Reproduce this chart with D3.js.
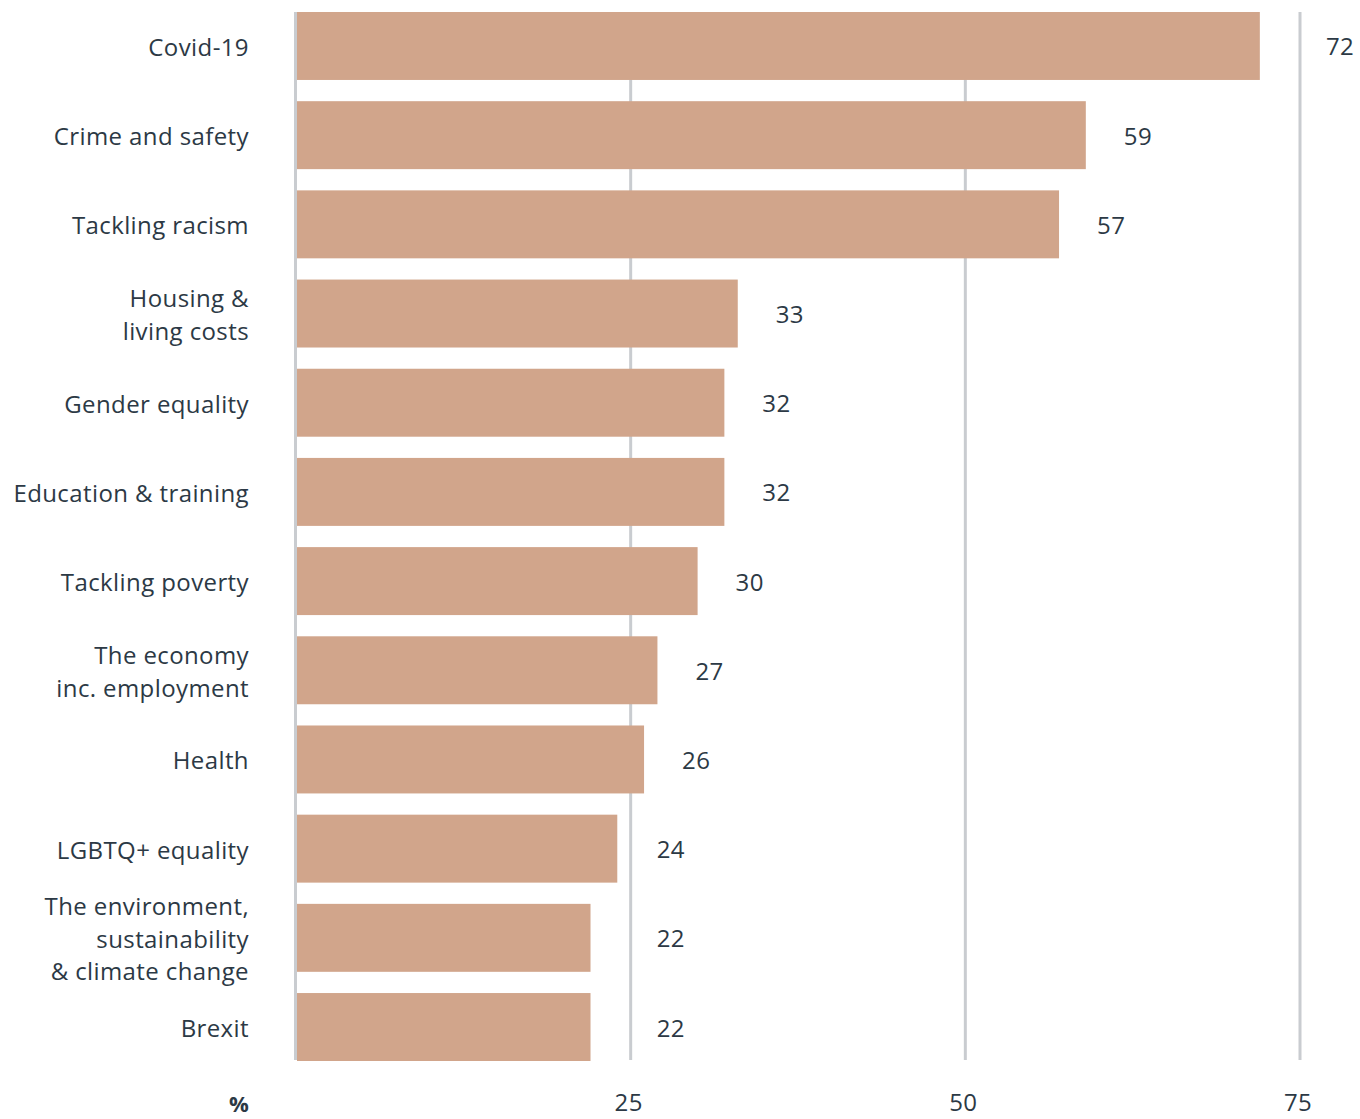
<!DOCTYPE html>
<html>
<head>
<meta charset="utf-8">
<script src="https://cdn.jsdelivr.net/npm/d3@7"></script>
<style>
  html, body { margin: 0; padding: 0; background: #fff; }
  svg text { font-family: "Open Sans", "Noto Sans", sans-serif; fill: #2c3945; }
</style>
</head>
<body>
<svg id="chart" width="1360" height="1119"></svg>
<script>
// Issues people care about, share of respondents (%)
const categories = [
  ["Covid-19"],
  ["Crime and safety"],
  ["Tackling racism"],
  ["Housing &", "living costs"],
  ["Gender equality"],
  ["Education & training"],
  ["Tackling poverty"],
  ["The economy", "inc. employment"],
  ["Health"],
  ["LGBTQ+ equality"],
  ["The environment,", "sustainability", "& climate change"],
  ["Brexit"]
];
const values = [72, 59, 57, 33, 32, 32, 30, 27, 26, 24, 22, 22];
const tickValues = [25, 50, 75];
const unitLabel = "%";

const svg = d3.select("#chart");
const fontSize = 24;
const letterSpacing = 0.4;
const barColor = "#d1a58b";
const gridColor = "#c9ccd0";

const x = d3.scaleLinear().domain([0, 75]).range([296, 1300]);
const y = d3.scaleBand()
  .domain(d3.range(categories.length))
  .range([12, 1061])
  .paddingInner(0.238)
  .paddingOuter(0);

// Vertical gridlines at the tick values
svg.append("g")
  .selectAll("line")
  .data(tickValues)
  .join("line")
  .attr("x1", d => x(d)).attr("x2", d => x(d))
  .attr("y1", 12).attr("y2", 1060)
  .attr("stroke", gridColor)
  .attr("stroke-width", 3);

// Baseline at zero
svg.append("line")
  .attr("x1", x(0) - 0.5).attr("x2", x(0) - 0.5)
  .attr("y1", 12).attr("y2", 1060)
  .attr("stroke", gridColor)
  .attr("stroke-width", 3);

// Bars
svg.append("g")
  .selectAll("rect")
  .data(values)
  .join("rect")
  .attr("x", x(0) + 1)
  .attr("y", (d, i) => y(i))
  .attr("width", d => x(d) - x(0) - 1)
  .attr("height", y.bandwidth())
  .attr("fill", barColor);

// Category labels, right-aligned, possibly multi-line
const lineH = 32.5;
const catG = svg.append("g");
categories.forEach((lines, i) => {
  const cy = y(i) + y.bandwidth() / 2;
  const t = catG.append("text")
    .attr("x", 249)
    .attr("text-anchor", "end")
    .attr("font-size", fontSize)
    .attr("letter-spacing", letterSpacing)
    .attr("dominant-baseline", "central");
  lines.forEach((ln, j) => {
    t.append("tspan")
      .attr("x", 249)
      .attr("y", cy + (j - (lines.length - 1) / 2) * lineH)
      .text(ln);
  });
});

// Value labels beside bar ends, stepping past any gridline they would sit on
svg.append("g")
  .selectAll("text")
  .data(values)
  .join("text")
  .attr("x", d => {
    let lx = x(d) + 38;
    tickValues.forEach(t => {
      const gx = x(t);
      if (gx >= x(d) && gx <= lx + 30) lx = gx + 26;
    });
    return lx;
  })
  .attr("y", (d, i) => y(i) + y.bandwidth() / 2)
  .attr("dominant-baseline", "central")
  .attr("font-size", fontSize)
  .attr("letter-spacing", letterSpacing)
  .text(d => d);

// Axis tick labels
svg.append("g")
  .selectAll("text")
  .data(tickValues)
  .join("text")
  .attr("x", d => x(d) - 2)
  .attr("y", 1101)
  .attr("text-anchor", "middle")
  .attr("dominant-baseline", "central")
  .attr("font-size", fontSize)
  .attr("letter-spacing", letterSpacing)
  .text(d => d);

svg.append("text")
  .attr("x", 239)
  .attr("y", 1103)
  .attr("text-anchor", "middle")
  .attr("dominant-baseline", "central")
  .attr("font-size", 22)
  .attr("font-weight", "bold")
  .text(unitLabel);
</script>
</body>
</html>
